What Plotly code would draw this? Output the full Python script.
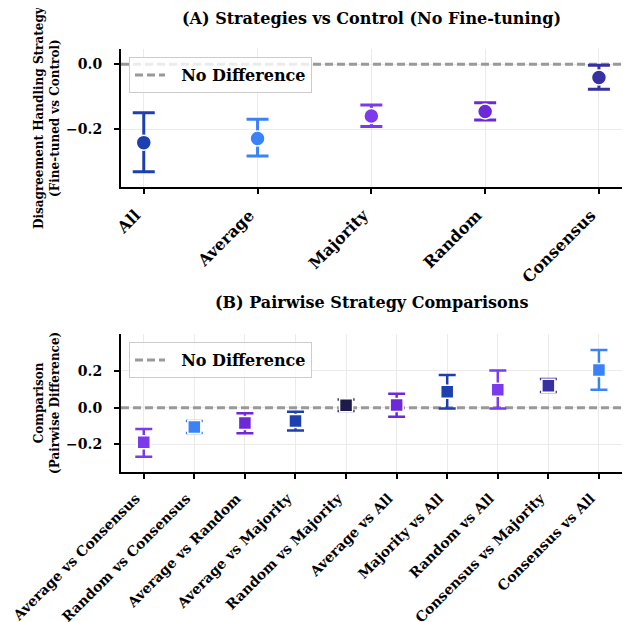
import plotly.graph_objects as go

# ---------------- data ----------------
strategies = ["All", "Average", "Majority", "Random", "Consensus"]
a_mean = [-0.242, -0.229, -0.160, -0.146, -0.041]
a_low = [-0.332, -0.283, -0.192, -0.172, -0.077]
a_high = [-0.150, -0.170, -0.126, -0.119, -0.003]
a_colors = ["#1e40af", "#3b82f6", "#7c3aed", "#6d28d9", "#3730a3"]

comparisons = [
    "Average vs Consensus", "Random vs Consensus", "Average vs Random",
    "Average vs Majority", "Random vs Majority", "Average vs All",
    "Majority vs All", "Random vs All", "Consensus vs Majority", "Consensus vs All",
]
b_mean = [-0.189, -0.105, -0.083, -0.073, 0.013, 0.015, 0.087, 0.098, 0.120, 0.206]
b_low = [-0.267, -0.138, -0.140, -0.124, -0.018, -0.049, -0.005, -0.005, 0.086, 0.098]
b_high = [-0.116, -0.072, -0.031, -0.022, 0.044, 0.076, 0.178, 0.202, 0.156, 0.315]
b_colors = ["#7c3aed", "#3b82f6", "#6d28d9", "#1e40af", "#1e1b4b",
            "#6d28d9", "#1e40af", "#7c3aed", "#3730a3", "#3b82f6"]

a_yticks = [-0.2, 0.0]
b_yticks = [-0.2, 0.0, 0.2]
reference_value = 0.0
legend_label = "No Difference"

FONT = "DejaVu Serif"
# the page body adds an 8px offset, so the figure is 8px smaller than the window
W, H, OFF = 625, 614, 8


def px_x(p):
    return (p - OFF) / W


def px_y(p):
    return (622 - p) / H


a_xrange = [-0.2, len(strategies) - 1 + 0.2]
b_xrange = [-0.45, len(comparisons) - 1 + 0.45]

fig = go.Figure()

# "No Difference" reference lines (drawn first so markers sit on top)
for lg, xa, ya, xr in [("legend", "x", "y", a_xrange), ("legend2", "x2", "y2", b_xrange)]:
    fig.add_trace(go.Scatter(
        x=xr, y=[reference_value, reference_value], mode="lines",
        name="\u00a0\u00a0" + legend_label, legend=lg, hoverinfo="skip",
        line=dict(color="#999999", width=3, dash="8px,4px"), xaxis=xa, yaxis=ya,
    ))

for i, (m, lo, hi, c) in enumerate(zip(a_mean, a_low, a_high, a_colors)):
    fig.add_trace(go.Scatter(
        x=[i], y=[m], mode="markers", showlegend=False, name=strategies[i],
        marker=dict(symbol="circle", size=15, color=c, line=dict(color="white", width=1.5)),
        error_y=dict(type="data", symmetric=False, array=[hi - m], arrayminus=[m - lo],
                     color=c, thickness=3, width=11),
        xaxis="x", yaxis="y",
    ))

for i, (m, lo, hi, c) in enumerate(zip(b_mean, b_low, b_high, b_colors)):
    fig.add_trace(go.Scatter(
        x=[i], y=[m], mode="markers", showlegend=False, name=comparisons[i],
        marker=dict(symbol="square", size=13, color=c, line=dict(color="white", width=1.5)),
        error_y=dict(type="data", symmetric=False, array=[hi - m], arrayminus=[m - lo],
                     color=c, thickness=2.5, width=8.5),
        xaxis="x2", yaxis="y2",
    ))

axis_common = dict(
    showline=True, linecolor="black", linewidth=2, ticks="outside", ticklen=5,
    tickwidth=1.5, tickcolor="black", showgrid=True, gridcolor="#ebebeb",
    gridwidth=1, zeroline=False, mirror=False, automargin=False,
)

xdom = [px_x(121), px_x(621.7)]
legend_style = dict(xanchor="left", yanchor="top",
                    bgcolor="rgba(255,255,255,0.8)", bordercolor="#cccccc", borderwidth=1,
                    font=dict(family=FONT, size=16, weight="bold", color="black"))

fig.update_layout(
    width=W, height=H, margin=dict(l=0, r=0, t=0, b=0),
    plot_bgcolor="white", paper_bgcolor="white",
    font=dict(family=FONT, color="black"),
    xaxis=dict(domain=xdom, range=a_xrange, anchor="y",
               tickvals=list(range(len(strategies))), ticktext=strategies,
               tickangle=-45, tickfont=dict(family=FONT, size=16, weight="bold"),
               ticklabelstandoff=6, ticklabelshift=-8, **axis_common),
    yaxis=dict(domain=[px_y(186.7), px_y(49.3)], range=[-0.378, 0.046], anchor="x",
               tickvals=a_yticks, tickformat=".1f", ticklabelstandoff=9,
               tickfont=dict(family=FONT, size=14, weight="bold"), **axis_common),
    xaxis2=dict(domain=xdom, range=b_xrange, anchor="y2",
                tickvals=list(range(len(comparisons))), ticktext=comparisons,
                tickangle=-45, tickfont=dict(family=FONT, size=14, weight="bold"),
                ticklabelstandoff=6, ticklabelshift=-8, **axis_common),
    yaxis2=dict(domain=[px_y(471.7), px_y(334.3)], range=[-0.349, 0.40], anchor="x2",
                tickvals=b_yticks, tickformat=".1f", ticklabelstandoff=9,
                tickfont=dict(family=FONT, size=14, weight="bold"), **axis_common),
    legend=dict(x=px_x(129), y=px_y(57), **legend_style),
    legend2=dict(x=px_x(129), y=px_y(342), **legend_style),
)

annotations = [
    dict(text="(A) Strategies vs Control (No Fine-tuning)", x=px_x(371), y=px_y(18),
         xref="paper", yref="paper", showarrow=False, xanchor="center", yanchor="middle",
         font=dict(family=FONT, size=16, weight="bold")),
    dict(text="(B) Pairwise Strategy Comparisons", x=px_x(371), y=px_y(302),
         xref="paper", yref="paper", showarrow=False, xanchor="center", yanchor="middle",
         font=dict(family=FONT, size=16, weight="bold")),
    dict(text="Disagreement Handling Strategy<br>(Fine-tuned vs Control)", x=px_x(47),
         y=px_y(118), xref="paper", yref="paper", showarrow=False, textangle=-90,
         xanchor="center", yanchor="middle", font=dict(family=FONT, size=12, weight="bold")),
    dict(text="Comparison<br>(Pairwise Difference)", x=px_x(47),
         y=px_y(403), xref="paper", yref="paper", showarrow=False, textangle=-90,
         xanchor="center", yanchor="middle", font=dict(family=FONT, size=12, weight="bold")),
]
fig.update_layout(annotations=annotations)

fig.write_html("out.html")
